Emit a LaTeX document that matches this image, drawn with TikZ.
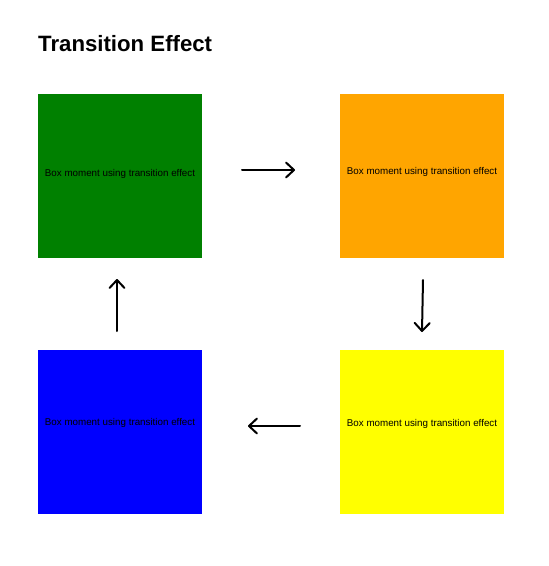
\documentclass[tikz,border=0pt]{standalone}
\usepackage{fontspec}
\setmainfont{Liberation Sans}
\usetikzlibrary{arrows.meta}

\begin{document}
\begin{tikzpicture}[x=1pt,y=-1pt,
	box/.style={minimum size=164pt, inner sep=0pt, anchor=north west},
	boxtext/.style={font=\fontsize{9.8}{11}\selectfont},
	move/.style={line width=2pt, line cap=round, -{Straight Barb[length=8pt,width=15pt,line cap=round,line join=round]}}]
	\useasboundingbox (0,0) rectangle (549,566);
	\node [anchor=base west, inner sep=0pt, font=\bfseries\fontsize{22.2}{26}\selectfont] (title) at (38,51) {Transition Effect};
	% the four boxes
	\node [box, fill={rgb,255:red,0;green,128;blue,0}] (green) at (38,94) {};
	\node [box, fill={rgb,255:red,255;green,165;blue,0}] (orange) at (340,94) {};
	\node [box, fill={rgb,255:red,255;green,255;blue,0}] (yellow) at (340,350) {};
	\node [box, fill={rgb,255:red,0;green,0;blue,255}] (blue) at (38,350) {};
	\node [boxtext] (greentext) at (120,174) {Box moment using transition effect};
	\node [boxtext] (orangetext) at (422,172) {Box moment using transition effect};
	\node [boxtext] (yellowtext) at (422,424) {Box moment using transition effect};
	\node [boxtext] (bluetext) at (120,423) {Box moment using transition effect};
	% arrows between the boxes
	\coordinate (gtail) at (242,170);
	\coordinate (ghead) at (295,170);
	\coordinate (otail) at (423,280);
	\coordinate (ohead) at (422,332);
	\coordinate (ytail) at (300,426);
	\coordinate (yhead) at (248,426);
	\coordinate (btail) at (117,331);
	\coordinate (bhead) at (117,279);
	\draw [move] (gtail) -- (ghead);
	\draw [move] (otail) -- (ohead);
	\draw [move] (ytail) -- (yhead);
	\draw [move] (btail) -- (bhead);
\end{tikzpicture}
\end{document}
